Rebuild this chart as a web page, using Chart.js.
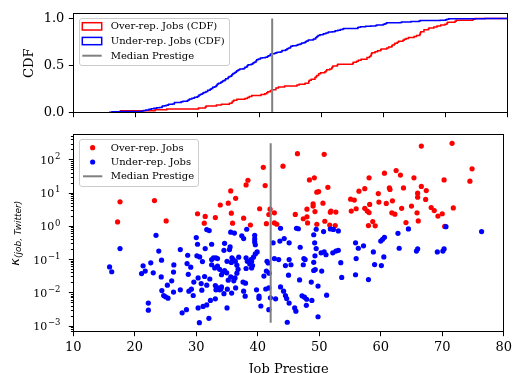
<!DOCTYPE html>
<html>
<head>
<meta charset="utf-8">
<title>Job prestige vs. representation</title>
<script src="https://cdn.jsdelivr.net/npm/chart.js@4.4.1/dist/chart.umd.min.js"></script>
<style>
  html, body { margin: 0; padding: 0; background: #fff; }
  #figure { position: relative; width: 516px; height: 373px; overflow: hidden; }
  #figure canvas { position: absolute; left: 0; top: 0; }
</style>
</head>
<body>
<div id="figure">
  <canvas id="scatterCanvas" width="516" height="373"></canvas>
  <canvas id="cdfCanvas" width="516" height="373"></canvas>
</div>
<script>
// Ticks and reference values
const xTicks = [10, 20, 30, 40, 50, 60, 70, 80];
const cdfTicks = [0, 0.5, 1.0];
const kappaTicks = [1e-3, 1e-2, 1e-1, 1, 10, 100];
const medianPrestige = 42.1;

// Over-represented jobs: prestige score and kappa(job, Twitter)
const overRepPrestige = [
  17.6, 23.2, 17.2, 25.1, 30.2, 31.45, 33.1, 31.3, 33.9, 46.45,
  50.8, 40.9, 44.1, 38.4, 38.1, 41.2, 48.4, 49.2, 51.4, 35.6,
  36.4, 49.6, 49.9, 35.2, 35.7, 35.9, 37.7, 38.8, 40.3, 42.0,
  41.8, 42.7, 41.4, 42.7, 43.1, 46.1, 48.0, 49.0, 49.0, 50.6,
  49.3, 47.4, 48.0, 48.1, 49.6, 50.9, 51.8, 51.9, 52.7, 51.7,
  52.6, 55.1, 55.7, 56.45, 55.2, 56.0, 66.6, 71.6, 74.85, 74.5,
  70.3, 58.1, 60.6, 62.5, 63.2, 65.4, 57.4, 59.6, 61.4, 61.5,
  63.7, 66.6, 67.4, 66.0, 66.0, 67.3, 58.2, 59.7, 60.9, 61.9,
  57.4, 57.8, 58.1, 61.8, 62.3, 63.4, 65.0, 65.9, 68.2, 68.7,
  69.3, 70.0, 71.8, 58.7, 58.0, 59.1, 64.1, 66.1, 70.4
];
const overRepKappa = [
  5.5, 6.0, 1.36, 1.46, 2.4, 2.0, 1.84, 1.25, 4.4, 155,
  148, 60, 65, 24.5, 17.7, 17, 25, 29, 15, 11.7,
  7.0, 10.7, 11.2, 5.0, 2.5, 1.25, 1.77, 1.1, 3.4, 3.3,
  2.28, 2.57, 1.21, 1.27, 1.16, 2.3, 3.3, 4.8, 4.1, 5.0,
  2.8, 1.7, 1.94, 1.27, 1.16, 1.43, 2.67, 2.9, 2.7, 1.1,
  1.06, 6.6, 6.2, 11.5, 2.9, 3.4, 263, 318, 54, 23,
  25, 29, 40, 48, 35, 29, 13.7, 9.7, 14.4, 13,
  14.4, 16, 12, 10, 7.6, 6.5, 4.6, 5.4, 4.9, 5.9,
  3.5, 2.9, 2.6, 2.57, 2.33, 3.5, 4.1, 2.57, 3.7, 3.0,
  2.05, 2.4, 3.6, 1.4, 1.06, 1.04, 1.3, 1.46, 1.0
];

// Under-represented jobs: prestige score and kappa(job, Twitter)
const underRepPrestige = [
  23.45, 17.6, 15.9, 16.25, 21.35, 21.7, 21.1, 22.6, 23.0, 23.9,
  24.35, 24.3, 24.4, 24.7, 25.0, 25.4, 22.2, 22.2, 26.35, 26.3,
  26.0, 25.3, 26.3, 27.4, 27.4, 27.7, 28.4, 28.6, 28.5, 29.1,
  28.7, 28.8, 29.2, 29.5, 29.6, 30.0, 30.2, 30.1, 30.55, 31.0,
  31.45, 32.5, 30.3, 30.8, 31.35, 31.7, 30.9, 32.2, 32.5, 32.8,
  33.2, 33.45, 32.5, 33.0, 33.45, 33.8, 33.1, 33.3, 33.8, 33.2,
  32.3, 31.7, 31.1, 30.3, 32.05, 30.5, 33.1, 31.7, 32.1, 35.6,
  36.2, 38.2, 37.4, 37.7, 39.5, 39.5, 39.5, 39.6, 39.9, 39.6,
  34.6, 35.5, 34.5, 35.4, 35.0, 35.8, 36.0, 35.7, 36.35, 36.9,
  38.1, 38.3, 38.9, 39.3, 39.0, 38.7, 41.5, 41.7, 34.3, 34.6,
  34.95, 34.1, 36.6, 36.8, 36.6, 38.1, 39.0, 39.15, 41.0, 41.4,
  41.85, 35.6, 36.3, 36.1, 35.2, 37.6, 38.0, 34.0, 34.1, 35.05,
  35.75, 36.4, 34.5, 37.7, 37.95, 39.8, 40.2, 40.2, 40.5, 41.3,
  41.8, 41.8, 35.0, 42.05, 42.9, 42.5, 43.6, 44.3, 45.1, 42.7,
  43.4, 45.1, 45.4, 44.5, 45.0, 46.8, 43.7, 44.2, 44.5, 44.7,
  45.1, 46.0, 46.2, 44.8, 46.9, 47.5, 47.4, 47.7, 47.2, 47.6,
  47.95, 48.8, 47.9, 48.7, 49.8, 49.1, 49.25, 49.5, 49.3, 49.1,
  49.35, 49.1, 50.3, 50.8, 51.1, 50.4, 49.8, 51.2, 52.2, 52.7,
  53.1, 53.5, 53.65, 55.9, 56.35, 56.0, 55.9, 62.8, 60.0, 60.3,
  60.6, 57.2, 58.8, 60.5, 63.0, 59.0, 60.1, 58.0, 65.8, 66.0,
  69.2, 70.1, 70.3, 43.7, 46.3, 46.6, 49.5, 50.7, 51.8, 52.3,
  53.1, 64.5, 70.6, 76.4
];
const underRepKappa = [
  0.54, 0.215, 0.060, 0.043, 0.065, 0.045, 0.038, 0.08, 0.040, 0.18,
  0.096, 0.030, 0.0117, 0.0083, 0.0076, 0.0069, 0.0049, 0.0030, 0.069, 0.042,
  0.023, 0.017, 0.0105, 0.20, 0.0123, 0.0025, 0.0031, 0.135, 0.076, 0.059,
  0.036, 0.0112, 0.0129, 0.0083, 0.021, 0.46, 0.29, 0.13, 0.12, 0.087,
  0.215, 0.29, 0.028, 0.019, 0.031, 0.017, 0.012, 0.026, 0.10, 0.113,
  0.113, 0.107, 0.070, 0.056, 0.064, 0.051, 0.0166, 0.0148, 0.0123, 0.0123,
  0.0059, 0.0043, 0.0039, 0.0035, 0.0017, 0.00126, 0.0066, 0.80, 0.75, 0.67,
  0.63, 0.82, 0.52, 0.43, 0.54, 0.42, 0.34, 0.28, 0.17, 0.148,
  0.31, 0.24, 0.19, 0.20, 0.089, 0.113, 0.10, 0.082, 0.089, 0.118,
  0.113, 0.089, 0.10, 0.118, 0.089, 0.074, 0.089, 0.079, 0.042, 0.047,
  0.040, 0.035, 0.068, 0.051, 0.039, 0.054, 0.056, 0.066, 0.032, 0.045,
  0.039, 0.030, 0.028, 0.023, 0.024, 0.021, 0.0195, 0.013, 0.015, 0.0129,
  0.0098, 0.014, 0.0094, 0.0112, 0.0079, 0.0123, 0.0079, 0.0068, 0.0040, 0.013,
  0.014, 0.0031, 0.0035, 0.0071, 0.0066, 0.32, 0.36, 0.43, 0.32, 0.107,
  0.10, 0.10, 0.070, 0.066, 0.034, 0.0245, 0.015, 0.0112, 0.0083, 0.0067,
  0.0049, 0.0035, 0.0028, 0.0013, 0.235, 0.107, 0.070, 0.10, 0.0081, 0.0074,
  0.0064, 0.0059, 0.0042, 0.021, 0.0019, 0.56, 0.32, 0.215, 0.13, 0.083,
  0.050, 0.047, 0.16, 0.17, 0.14, 0.045, 0.016, 0.0085, 0.16, 0.18,
  0.19, 0.081, 0.029, 0.32, 0.22, 0.107, 0.035, 0.62, 0.36, 0.41,
  0.47, 0.26, 0.17, 0.12, 0.22, 0.071, 0.066, 0.025, 0.18, 0.21,
  0.17, 0.18, 0.21, 0.88, 0.88, 0.85, 0.82, 0.70, 0.84, 0.81,
  0.73, 0.84, 0.98, 0.70
];

// Figure geometry (pixels) - both panels share the same x span
const W = 516, H = 373;
const PLOT_LEFT = 73.3, PLOT_RIGHT = 507;
const cdfPanel = { top: 13.7, bottom: 112.7 };
const scatterPanel = { top: 134.7, bottom: 331.7 };
const X_MIN = 10, X_MAX = 80;
const CDF_MAX = 1.05;
const KAPPA_MIN = 6.74e-4, KAPPA_MAX = 577;

const RED = '#ff0000', BLUE = '#0000ff', GRAY = '#808080';
const SERIF = "'DejaVu Serif', serif";
const MATH = "'DejaVu Sans', sans-serif";

Chart.defaults.font.family = SERIF;
Chart.defaults.color = '#000';

function toPoints(xs, ys) {
    return xs.map((x, i) => ({ x: x, y: ys[i] }));
}

// Empirical CDF of prestige values: flat at 0 before the first job, flat at 1 after the last
function cdfSteps(values) {
    const sorted = values.slice().sort((a, b) => a - b);
    const pts = [{ x: X_MIN, y: 0 }];
    sorted.forEach((v, i) => pts.push({ x: v, y: (i + 1) / sorted.length }));
    pts.push({ x: X_MAX, y: 1 });
    return pts;
}

const allKappa = overRepKappa.concat(underRepKappa);
const kappaLow = Math.min.apply(null, allKappa);
const kappaHigh = Math.max.apply(null, allKappa);

// Shared axis bits (matplotlib look: outward ticks, no grid)
const tickGrid = { drawOnChartArea: false, drawTicks: true, tickLength: 4.5, tickColor: '#000', tickWidth: 1 };

function xAxis(panel, showLabels) {
    return {
        type: 'linear',
        min: X_MIN,
        max: X_MAX,
        afterBuildTicks: s => { s.ticks = xTicks.map(v => ({ value: v })); },
        afterFit: s => { s.height = H - panel.bottom; },
        grid: tickGrid,
        border: { display: false },
        ticks: { display: showLabels, autoSkip: false, maxRotation: 0, padding: 4, font: { size: 13 }, color: '#000' }
    };
}

// Draws the four spines, minor log ticks, log tick labels, axis titles and the legend
const mplPlugin = {
    id: 'mpl',
    afterDatasetsDraw(chart, args, opts) {
        const ctx = chart.ctx;
        const a = chart.chartArea;
        const l = Math.floor(a.left) + 0.5, r = Math.floor(a.right) + 0.5;
        const t = Math.floor(a.top) + 0.5, b = Math.floor(a.bottom) + 0.5;
        ctx.save();
        ctx.strokeStyle = '#000';
        ctx.lineWidth = 1;
        ctx.strokeRect(l, t, r - l, b - t);

        if (opts.logAxis) {
            const y = chart.scales.y;
            // minor ticks at 2..9 x 10^n
            for (let e = -4; e <= 3; e++) {
                for (let m = 2; m <= 9; m++) {
                    const v = m * Math.pow(10, e);
                    if (v < y.min || v > y.max) continue;
                    const py = Math.floor(y.getPixelForValue(v)) + 0.5;
                    ctx.beginPath();
                    ctx.moveTo(l - 2.6, py);
                    ctx.lineTo(l, py);
                    ctx.stroke();
                }
            }
            // 10^n labels with raised exponent
            ctx.fillStyle = '#000';
            ctx.textAlign = 'left';
            ctx.textBaseline = 'alphabetic';
            kappaTicks.forEach(v => {
                const exp = Math.round(Math.log10(v));
                const expStr = exp < 0 ? '\u2212' + (-exp) : String(exp);
                const py = y.getPixelForValue(v);
                ctx.font = '11px ' + SERIF;
                const wBase = ctx.measureText('10').width;
                ctx.font = '8.5px ' + SERIF;
                const wExp = ctx.measureText(expStr).width;
                const x0 = opts.logLabelRight - wExp - wBase - 0.8;
                ctx.font = '11px ' + SERIF;
                ctx.fillText('10', x0, py + 4);
                ctx.font = '8.5px ' + SERIF;
                ctx.fillText(expStr, x0 + wBase + 0.8, py - 0.8);
            });
        }
        ctx.restore();
    },
    afterDraw(chart, args, opts) {
        const ctx = chart.ctx;
        const a = chart.chartArea;
        ctx.save();
        ctx.fillStyle = '#000';

        // y axis title
        if (opts.yTitle) {
            ctx.save();
            ctx.translate(opts.yTitle.x, (a.top + a.bottom) / 2);
            ctx.rotate(-Math.PI / 2);
            ctx.textAlign = 'center';
            ctx.textBaseline = 'alphabetic';
            ctx.font = '13px ' + SERIF;
            ctx.fillText(opts.yTitle.text, 0, 0);
            ctx.restore();
        }
        // kappa title: greek letter with a smaller subscript
        if (opts.kappaTitle) {
            const k = opts.kappaTitle;
            ctx.save();
            ctx.translate(k.x, (a.top + a.bottom) / 2);
            ctx.rotate(-Math.PI / 2);
            ctx.textAlign = 'left';
            ctx.textBaseline = 'alphabetic';
            ctx.font = 'italic 13px ' + MATH;
            const wMain = ctx.measureText(k.main).width;
            ctx.font = 'italic 9px ' + MATH;
            const wSub = ctx.measureText(k.sub).width;
            const start = -(wMain + wSub) / 2;
            ctx.font = 'italic 13px ' + MATH;
            ctx.fillText(k.main, start, 0);
            ctx.font = 'italic 9px ' + MATH;
            ctx.fillText(k.sub, start + wMain, 2.2);
            ctx.restore();
        }
        // x axis title
        if (opts.xTitle) {
            ctx.textAlign = 'center';
            ctx.textBaseline = 'alphabetic';
            ctx.font = '13px ' + SERIF;
            ctx.fillText(opts.xTitle.text, (a.left + a.right) / 2, opts.xTitle.y);
        }

        // legend box in the upper-left corner
        if (opts.legend) {
            const cfg = opts.legend;
            const sets = chart.data.datasets;
            ctx.font = cfg.fontSize + 'px ' + SERIF;
            const textW = Math.max.apply(null, sets.map(d => ctx.measureText(d.label).width));
            const x0 = a.left + cfg.insetX, y0 = a.top + cfg.insetY;
            const w = cfg.textOffset + textW + cfg.padRight;
            const h = cfg.firstRow + cfg.rowGap * (sets.length - 1) + cfg.lastPad;
            ctx.beginPath();
            ctx.roundRect(Math.floor(x0) + 0.5, Math.floor(y0) + 0.5, Math.round(w), Math.round(h), 2.5);
            ctx.fillStyle = 'rgba(255,255,255,0.8)';
            ctx.fill();
            ctx.strokeStyle = '#cccccc';
            ctx.lineWidth = 1;
            ctx.stroke();

            sets.forEach((d, i) => {
                const cy = y0 + cfg.firstRow + i * cfg.rowGap;
                const hx = x0 + cfg.handleLeft;
                if (d.legendKind === 'patch') {
                    ctx.strokeStyle = d.borderColor;
                    ctx.lineWidth = 1.5;
                    ctx.strokeRect(hx, cy - 3.6, cfg.handleLen, 7.3);
                } else if (d.legendKind === 'dot') {
                    ctx.fillStyle = d.backgroundColor;
                    ctx.beginPath();
                    ctx.arc(hx + cfg.handleLen / 2, cy, 2.6, 0, Math.PI * 2);
                    ctx.fill();
                } else {
                    ctx.strokeStyle = d.borderColor;
                    ctx.lineWidth = 2;
                    ctx.beginPath();
                    ctx.moveTo(hx, cy);
                    ctx.lineTo(hx + cfg.handleLen, cy);
                    ctx.stroke();
                }
                ctx.fillStyle = '#000';
                ctx.textAlign = 'left';
                ctx.textBaseline = 'middle';
                ctx.fillText(d.label, x0 + cfg.textOffset, cy + 0.5);
            });
        }
        ctx.restore();
    }
};

// ---- top panel: CDFs of prestige ----
new Chart(document.getElementById('cdfCanvas').getContext('2d'), {
    type: 'line',
    data: {
        datasets: [
            {
                label: 'Over-rep. Jobs (CDF)',
                legendKind: 'patch',
                data: cdfSteps(overRepPrestige),
                borderColor: RED,
                borderWidth: 1.5,
                stepped: 'before',
                pointRadius: 0,
                fill: false,
                order: 3
            },
            {
                label: 'Under-rep. Jobs (CDF)',
                legendKind: 'patch',
                data: cdfSteps(underRepPrestige),
                borderColor: BLUE,
                borderWidth: 1.5,
                stepped: 'before',
                pointRadius: 0,
                fill: false,
                order: 2
            },
            {
                label: 'Median Prestige',
                legendKind: 'line',
                data: [{ x: medianPrestige, y: 0 }, { x: medianPrestige, y: 1 }],
                borderColor: GRAY,
                borderWidth: 2,
                pointRadius: 0,
                fill: false,
                order: 1
            }
        ]
    },
    options: {
        responsive: false,
        animation: false,
        events: [],
        layout: { padding: { left: 0, right: W - PLOT_RIGHT, top: cdfPanel.top, bottom: 0 } },
        scales: {
            x: xAxis(cdfPanel, false),
            y: {
                type: 'linear',
                min: 0,
                max: CDF_MAX,
                afterBuildTicks: s => { s.ticks = cdfTicks.map(v => ({ value: v })); },
                afterFit: s => { s.width = PLOT_LEFT; },
                grid: tickGrid,
                border: { display: false },
                ticks: { padding: 4.5, font: { size: 13 }, color: '#000', callback: v => v.toFixed(1) }
            }
        },
        plugins: {
            legend: { display: false },
            tooltip: { enabled: false },
            mpl: {
                yTitle: { text: 'CDF', x: 32.5 },
                legend: { fontSize: 10, insetX: 5.7, insetY: 4.6, firstRow: 8, rowGap: 14.7, lastPad: 9.3,
                          handleLeft: 3.3, handleLen: 19.4, textOffset: 31.7, padRight: 4 }
            }
        }
    },
    plugins: [mplPlugin]
});

// ---- bottom panel: kappa vs prestige ----
new Chart(document.getElementById('scatterCanvas').getContext('2d'), {
    type: 'scatter',
    data: {
        datasets: [
            {
                label: 'Over-rep. Jobs',
                legendKind: 'dot',
                data: toPoints(overRepPrestige, overRepKappa),
                backgroundColor: RED,
                borderWidth: 0,
                pointRadius: 2.6,
                order: 3
            },
            {
                label: 'Under-rep. Jobs',
                legendKind: 'dot',
                data: toPoints(underRepPrestige, underRepKappa),
                backgroundColor: BLUE,
                borderWidth: 0,
                pointRadius: 2.6,
                order: 2
            },
            {
                label: 'Median Prestige',
                legendKind: 'line',
                data: [{ x: medianPrestige, y: kappaLow }, { x: medianPrestige, y: kappaHigh }],
                showLine: true,
                borderColor: GRAY,
                borderWidth: 2,
                pointRadius: 0,
                order: 1
            }
        ]
    },
    options: {
        responsive: false,
        animation: false,
        events: [],
        layout: { padding: { left: 0, right: W - PLOT_RIGHT, top: scatterPanel.top, bottom: 0 } },
        scales: {
            x: xAxis(scatterPanel, true),
            y: {
                type: 'logarithmic',
                min: KAPPA_MIN,
                max: KAPPA_MAX,
                afterBuildTicks: s => { s.ticks = kappaTicks.map(v => ({ value: v })); },
                afterFit: s => { s.width = PLOT_LEFT; },
                grid: tickGrid,
                border: { display: false },
                ticks: { display: false }
            }
        },
        plugins: {
            legend: { display: false },
            tooltip: { enabled: false },
            mpl: {
                logAxis: true,
                logLabelRight: 60.5,
                kappaTitle: { main: '\u03ba', sub: '(job, Twitter)', x: 19 },
                xTitle: { text: 'Job Prestige', y: 372.5 },
                legend: { fontSize: 10, insetX: 5.7, insetY: 4.3, firstRow: 8.7, rowGap: 14.3, lastPad: 9.4,
                          handleLeft: 4, handleLen: 19.3, textOffset: 31.7, padRight: 4 }
            }
        }
    },
    plugins: [mplPlugin]
});
</script>
</body>
</html>
